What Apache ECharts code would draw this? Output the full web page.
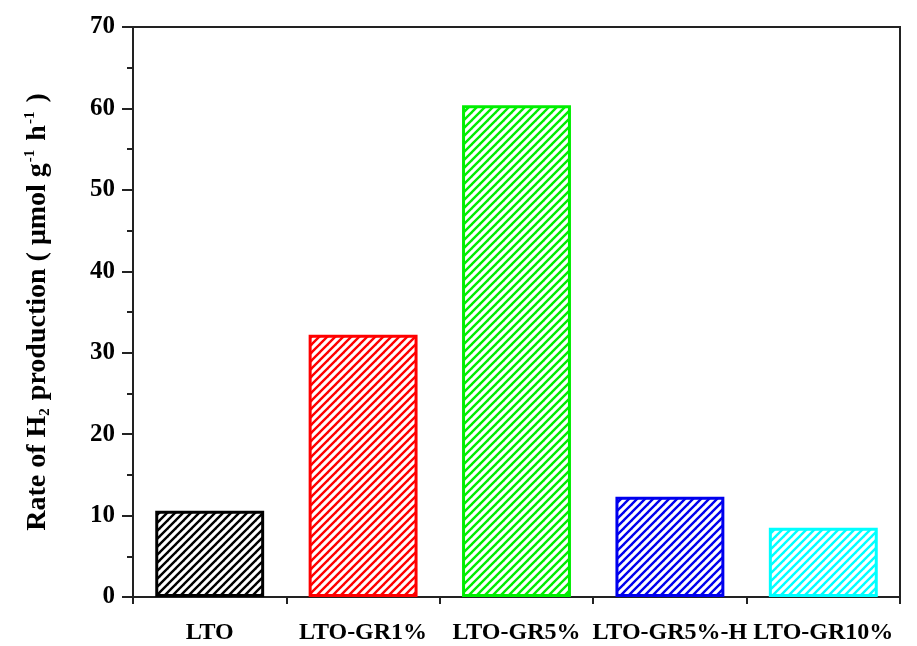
<!DOCTYPE html>
<html><head><meta charset="utf-8">
<script src="https://cdn.jsdelivr.net/npm/echarts@6/dist/echarts.min.js"></script>
<style>html,body{margin:0;padding:0;background:#fff}#c{width:917px;height:646px}</style>
</head><body><div id="c"></div>
<script>
const categories = ['LTO', 'LTO-GR1%', 'LTO-GR5%', 'LTO-GR5%-H', 'LTO-GR10%'];
const rates = [10.6, 32.2, 60.4, 12.3, 8.5];
const barColors = ['#000000', '#ff0000', '#00ee00', '#0000ee', '#00ffff'];
const yTicks = [0, 10, 20, 30, 40, 50, 60, 70];

function hatch(color) {
  const s = 8;
  const cv = document.createElement('canvas');
  cv.width = s; cv.height = s;
  const g = cv.getContext('2d');
  g.fillStyle = '#fff'; g.fillRect(0, 0, s, s);
  g.strokeStyle = color; g.lineWidth = 2.4; g.lineCap = 'square';
  [[-s, s, s, -s], [0, s, s, 0], [0, 2 * s, 2 * s, 0]].forEach(function (l) {
    g.beginPath(); g.moveTo(l[0], l[1]); g.lineTo(l[2], l[3]); g.stroke();
  });
  return { image: cv, repeat: 'repeat' };
}

const font = 'Liberation Serif';
const chart = echarts.init(document.getElementById('c'), null, { renderer: 'canvas' });
chart.setOption({
  animation: false,
  backgroundColor: '#fff',
  grid: { left: 133, right: 17, top: 27, bottom: 49, show: true, borderColor: '#222', borderWidth: 2, backgroundColor: 'transparent' },
  xAxis: {
    type: 'category', data: categories,
    axisLine: { lineStyle: { color: '#222', width: 2 } },
    axisTick: { show: true, length: 7, lineStyle: { color: '#222', width: 2 } },
    axisLabel: { interval: 0, color: '#000', fontFamily: font, fontWeight: 'bold', fontSize: 24, margin: 24 }
  },
  yAxis: {
    type: 'value', min: yTicks[0], max: yTicks[yTicks.length - 1], interval: 10,
    splitLine: { show: false },
    axisLine: { show: true, lineStyle: { color: '#222', width: 2 } },
    axisTick: { show: true, length: 11, lineStyle: { color: '#222', width: 2 } },
    minorTick: { show: true, splitNumber: 2, length: 6, lineStyle: { color: '#222', width: 2 } },
    axisLabel: { color: '#000', fontFamily: font, fontWeight: 'bold', fontSize: 25, margin: 18 },
    name: '{a|Rate of H}{s|2}{a| production ( μmol g}{p|-1}{a| h}{p|-1}{a| )}',
    nameLocation: 'middle', nameGap: 80, nameRotate: 90,
    nameTextStyle: {
      rich: {
        a: { fontFamily: font, fontWeight: 'bold', fontSize: 28, color: '#000', verticalAlign: 'middle', lineHeight: 30 },
        s: { fontFamily: font, fontWeight: 'bold', fontSize: 15, color: '#000', verticalAlign: 'bottom', lineHeight: 30, padding: [0, 1, 0, 0] },
        p: { fontFamily: font, fontWeight: 'bold', fontSize: 15, color: '#000', verticalAlign: 'top', lineHeight: 30, padding: [0, 2, 0, 1] }
      }
    }
  },
  series: [{
    type: 'bar', barWidth: '71%',
    data: rates.map(function (v, i) {
      return { value: v, itemStyle: { color: hatch(barColors[i]), borderColor: barColors[i], borderWidth: 3 } };
    })
  }]
});
</script></body></html>
